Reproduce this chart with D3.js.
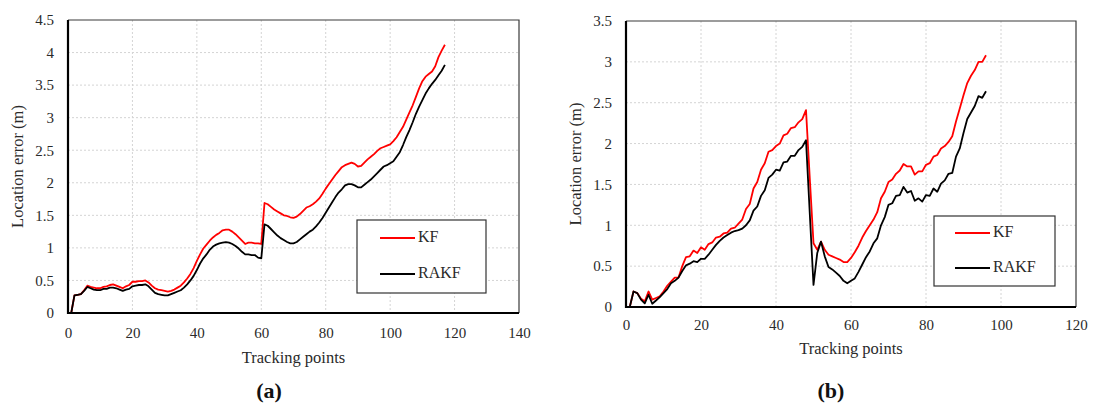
<!DOCTYPE html>
<html>
<head>
<meta charset="utf-8">
<script src="https://cdn.jsdelivr.net/npm/d3@7"></script>
<style>
  html, body { margin: 0; padding: 0; background: #fff; }
  svg { display: block; }
  svg text { font-family: "Liberation Serif", "Times New Roman", serif; }
</style>
</head>
<body>
<svg id="chart" width="1096" height="410"></svg>
<script>
// ---- Data: location error per tracking point ----
// Scenario (a): tracking points 1..117
const kfA = [
  0, 0.27, 0.28, 0.29, 0.35, 0.42, 0.40, 0.39, 0.38, 0.38,
  0.40, 0.41, 0.43, 0.44, 0.42, 0.40, 0.38, 0.41, 0.43, 0.48,
  0.48, 0.49, 0.49, 0.50, 0.47, 0.42, 0.38, 0.36, 0.35, 0.34,
  0.33, 0.34, 0.36, 0.39, 0.42, 0.47, 0.53, 0.60, 0.69, 0.80,
  0.90, 0.99, 1.05, 1.11, 1.16, 1.20, 1.23, 1.27, 1.28, 1.28,
  1.25, 1.21, 1.16, 1.11, 1.06, 1.08, 1.08, 1.07, 1.07, 1.06,
  1.69, 1.67, 1.63, 1.59, 1.56, 1.53, 1.50, 1.49, 1.47, 1.46,
  1.48, 1.52, 1.57, 1.62, 1.64, 1.67, 1.71, 1.76, 1.83, 1.91,
  1.98, 2.05, 2.12, 2.18, 2.24, 2.27, 2.29, 2.31, 2.29, 2.25,
  2.26, 2.31, 2.36, 2.40, 2.44, 2.49, 2.53, 2.55, 2.57, 2.59,
  2.64, 2.70, 2.78, 2.86, 2.97, 3.08, 3.19, 3.32, 3.45, 3.56,
  3.63, 3.67, 3.71, 3.79, 3.93, 4.03, 4.12
];
const rakfA = [
  0, 0.27, 0.28, 0.29, 0.34, 0.40, 0.38, 0.36, 0.35, 0.35,
  0.37, 0.37, 0.39, 0.39, 0.38, 0.36, 0.34, 0.36, 0.37, 0.41,
  0.42, 0.43, 0.43, 0.44, 0.41, 0.36, 0.31, 0.29, 0.28, 0.27,
  0.27, 0.29, 0.31, 0.33, 0.35, 0.39, 0.44, 0.50, 0.57, 0.66,
  0.76, 0.84, 0.90, 0.97, 1.02, 1.05, 1.07, 1.08, 1.09, 1.08,
  1.06, 1.03, 0.99, 0.94, 0.90, 0.90, 0.89, 0.89, 0.85, 0.84,
  1.36, 1.34, 1.29, 1.24, 1.19, 1.15, 1.12, 1.09, 1.07, 1.07,
  1.09, 1.13, 1.17, 1.21, 1.25, 1.28, 1.33, 1.39, 1.46, 1.54,
  1.62, 1.70, 1.78, 1.85, 1.90, 1.96, 1.98, 1.98, 1.96, 1.93,
  1.93, 1.97, 2.01, 2.05, 2.10, 2.15, 2.20, 2.25, 2.27, 2.30,
  2.33, 2.40, 2.47, 2.58, 2.70, 2.81, 2.93, 3.06, 3.17, 3.27,
  3.37, 3.45, 3.52, 3.58, 3.65, 3.72, 3.81
];

// Scenario (b): tracking points 1..96
const kfB = [
  0, 0.19, 0.17, 0.10, 0.07, 0.19, 0.09, 0.11, 0.13, 0.19,
  0.26, 0.31, 0.36, 0.36, 0.50, 0.61, 0.62, 0.69, 0.66, 0.73,
  0.70, 0.77, 0.79, 0.85, 0.86, 0.90, 0.91, 0.96, 0.97, 1.02,
  1.07, 1.20, 1.26, 1.45, 1.53, 1.68, 1.76, 1.90, 1.92, 1.97,
  2.00, 2.10, 2.12, 2.19, 2.20, 2.26, 2.30, 2.41, 1.58, 0.78,
  0.70, 0.80, 0.70, 0.64, 0.62, 0.60, 0.58, 0.55, 0.55, 0.60,
  0.67, 0.75, 0.85, 0.93, 1.00, 1.07, 1.16, 1.33, 1.41, 1.53,
  1.56, 1.63, 1.67, 1.75, 1.72, 1.72, 1.62, 1.66, 1.66, 1.74,
  1.76, 1.84, 1.86, 1.94, 1.97, 2.02, 2.09, 2.27, 2.43, 2.59,
  2.74, 2.83, 2.90, 3.00, 3.00, 3.08
];
const rakfB = [
  0, 0.19, 0.17, 0.09, 0.045, 0.15, 0.04, 0.08, 0.12, 0.17,
  0.22, 0.29, 0.32, 0.36, 0.44, 0.51, 0.53, 0.56, 0.55, 0.59,
  0.59, 0.64, 0.70, 0.76, 0.81, 0.85, 0.88, 0.91, 0.93, 0.94,
  0.96, 1.00, 1.06, 1.18, 1.23, 1.36, 1.43, 1.58, 1.62, 1.68,
  1.67, 1.77, 1.78, 1.85, 1.85, 1.92, 1.96, 2.04, 1.15, 0.27,
  0.66, 0.80, 0.62, 0.49, 0.46, 0.42, 0.38, 0.32, 0.29, 0.32,
  0.35, 0.43, 0.52, 0.61, 0.68, 0.78, 0.84, 1.00, 1.10, 1.25,
  1.27, 1.36, 1.37, 1.47, 1.40, 1.42, 1.30, 1.33, 1.29, 1.37,
  1.36, 1.45, 1.41, 1.51, 1.55, 1.63, 1.64, 1.84, 1.94, 2.13,
  2.30, 2.38, 2.46, 2.58, 2.56, 2.64
];

// Axis ticks
const xTicksA = [0, 20, 40, 60, 80, 100, 120, 140];
const yTicksA = [0, 0.5, 1, 1.5, 2, 2.5, 3, 3.5, 4, 4.5];
const xTicksB = [0, 20, 40, 60, 80, 100, 120];
const yTicksB = [0, 0.5, 1, 1.5, 2, 2.5, 3, 3.5];

const seriesNames = ["KF", "RAKF"];
const seriesColors = ["#ff0000", "#000000"];
const xTitle = "Tracking points";
const yTitle = "Location error (m)";
const panelLabels = ["a", "b"];

// ---- Layout ----
const serif = "font-family: 'Liberation Serif', 'Times New Roman', serif";
const panels = [
  {
    kf: kfA, rakf: rakfA, xTicks: xTicksA, yTicks: yTicksA, label: panelLabels[0],
    left: 68, right: 519, top: 20, bottom: 313, tickGap: 14, titleGap: 46,
    legend: { x: 357, y: 220, w: 129, h: 73, lx0: 380, lx1: 415, ly: [238, 274] },
    labelX: 269
  },
  {
    kf: kfB, rakf: rakfB, xTicks: xTicksB, yTicks: yTicksB, label: panelLabels[1],
    left: 626, right: 1076, top: 21, bottom: 307, tickGap: 12, titleGap: 43,
    legend: { x: 934, y: 216, w: 121, h: 70, lx0: 955, lx1: 990, ly: [233, 268] },
    labelX: 831
  }
];

const svg = d3.select("#chart");

panels.forEach(p => {
  const x = d3.scaleLinear()
    .domain([p.xTicks[0], p.xTicks[p.xTicks.length - 1]])
    .range([p.left, p.right]);
  const y = d3.scaleLinear()
    .domain([p.yTicks[0], p.yTicks[p.yTicks.length - 1]])
    .range([p.bottom, p.top]);

  const g = svg.append("g");

  // dotted grid
  g.append("g").selectAll("line")
    .data(p.xTicks.slice(1, -1)).join("line")
    .attr("x1", d => x(d)).attr("x2", d => x(d))
    .attr("y1", p.top).attr("y2", p.bottom)
    .attr("stroke", "#d4d4d4").attr("stroke-width", 1)
    .attr("stroke-dasharray", "2,2");
  g.append("g").selectAll("line")
    .data(p.yTicks.slice(1, -1)).join("line")
    .attr("x1", p.left).attr("x2", p.right)
    .attr("y1", d => y(d)).attr("y2", d => y(d))
    .attr("stroke", "#d4d4d4").attr("stroke-width", 1)
    .attr("stroke-dasharray", "2,2");

  // thin frame on top and right
  g.append("path")
    .attr("d", `M${p.left},${p.top}H${p.right}V${p.bottom}`)
    .attr("fill", "none").attr("stroke", "#3a3a3a").attr("stroke-width", 1.2);

  // axes with labels
  const xAxis = d3.axisBottom(x).tickValues(p.xTicks).tickSize(0).tickPadding(p.tickGap)
    .tickFormat(d3.format("d"));
  const yAxis = d3.axisLeft(y).tickValues(p.yTicks).tickSize(0).tickPadding(14)
    .tickFormat(d => String(d));

  const gx = g.append("g").attr("transform", `translate(0,${p.bottom})`).call(xAxis);
  const gy = g.append("g").attr("transform", `translate(${p.left},0)`).call(yAxis);
  [gx, gy].forEach(a => {
    a.attr("font-family", null).attr("font-size", null);
    a.select(".domain").remove();
    a.selectAll("text")
      .attr("style", serif)
      .attr("font-size", 15).attr("fill", "#2a2a2a");
  });

  // data lines
  const line = d3.line().x((d, i) => x(i + 1)).y(d => y(d));
  [p.kf, p.rakf].forEach((vals, k) => {
    g.append("path").datum(vals)
      .attr("d", line)
      .attr("fill", "none")
      .attr("stroke", seriesColors[k])
      .attr("stroke-width", 1.8)
      .attr("stroke-linejoin", "round");
  });

  // heavy left and bottom axis lines
  g.append("path")
    .attr("d", `M${p.left},${p.top}V${p.bottom}H${p.right}`)
    .attr("fill", "none").attr("stroke", "#000").attr("stroke-width", 2.2);

  // axis titles
  g.append("text")
    .attr("style", serif)
    .attr("x", (p.left + p.right) / 2).attr("y", p.bottom + p.titleGap)
    .attr("text-anchor", "middle").attr("dominant-baseline", "middle")
    .attr("font-size", 16.5).attr("fill", "#2a2a2a")
    .text(xTitle);
  g.append("text")
    .attr("style", serif)
    .attr("transform", `translate(${p.left - 49},${(p.top + p.bottom) / 2}) rotate(-90)`)
    .attr("text-anchor", "middle").attr("dominant-baseline", "middle")
    .attr("font-size", 16.5).attr("fill", "#2a2a2a")
    .text(yTitle);

  // legend
  const L = p.legend;
  const lg = g.append("g");
  lg.append("rect")
    .attr("x", L.x).attr("y", L.y).attr("width", L.w).attr("height", L.h)
    .attr("fill", "#fff").attr("stroke", "#333").attr("stroke-width", 1.2);
  seriesNames.forEach((name, k) => {
    lg.append("line")
      .attr("x1", L.lx0).attr("x2", L.lx1).attr("y1", L.ly[k]).attr("y2", L.ly[k])
      .attr("stroke", seriesColors[k]).attr("stroke-width", 1.8);
    lg.append("text")
      .attr("style", serif)
      .attr("x", L.lx1 + 3).attr("y", L.ly[k])
      .attr("dominant-baseline", "middle")
      .attr("font-size", 16).attr("fill", "#2a2a2a")
      .text(name);
  });

  // panel caption
  g.append("text")
    .attr("style", serif)
    .attr("x", p.labelX).attr("y", 393)
    .attr("text-anchor", "middle").attr("dominant-baseline", "middle")
    .attr("font-size", 22).attr("font-weight", "bold").attr("fill", "#111")
    .text(`(${p.label})`);
});
</script>
</body>
</html>
